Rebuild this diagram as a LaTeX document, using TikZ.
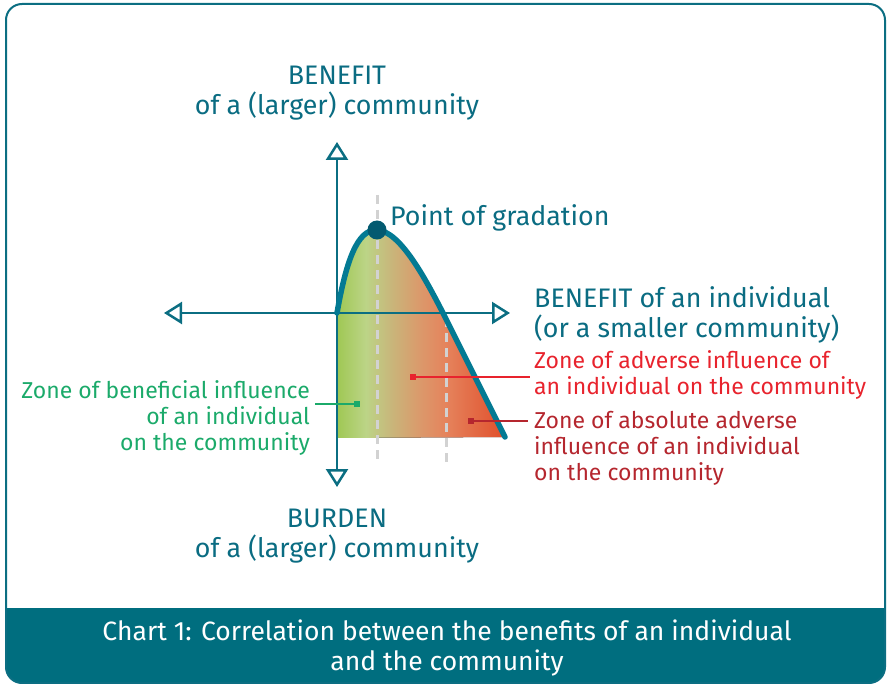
\documentclass[tikz,border=0pt]{standalone}
\usepackage{fontspec}
\setmainfont{Fira Sans}
\usetikzlibrary{arrows.meta,calc,positioning}

\definecolor{axisteal}{HTML}{0B6E82}
\definecolor{curveteal}{HTML}{037A93}
\definecolor{dotteal}{HTML}{035A70}
\definecolor{bandteal}{HTML}{006E7F}
\definecolor{textteal}{HTML}{0A6C82}
\definecolor{guidegray}{HTML}{D2D2D2}
\definecolor{zonegreen}{HTML}{1BAA6A}
\definecolor{zonered}{HTML}{E8232D}
\definecolor{zonedark}{HTML}{B5262E}
\definecolor{zg1}{HTML}{9DC750}
\definecolor{zg2}{HTML}{BCD487}
\definecolor{zg3}{HTML}{C9B57A}
\definecolor{zg4}{HTML}{DC976A}
\definecolor{zg5}{HTML}{E5835C}
\definecolor{zg6}{HTML}{E04D2A}

\begin{document}
\begin{tikzpicture}[x=1pt,y=-1pt,
    axis/.style={draw=axisteal, line width=2.5pt, {Triangle[open,length=18pt,width=22pt]}-{Triangle[open,length=18pt,width=22pt]}},
    guide/.style={draw=guidegray, line width=3pt, dash pattern=on 9pt off 6pt},
    marker/.style={rectangle, inner sep=0pt, minimum size=6pt},
    mainlabel/.style={text=textteal, font=\fontsize{26.8}{30}\selectfont, inner sep=0pt, align=center},
    zonelabel/.style={font=\fontsize{23}{26}\selectfont, inner sep=0pt}]
    \useasboundingbox (0,0) rectangle (888,684);

    %coordinates
    \coordinate (orig)   at (337,313);
    \coordinate (ytop)   at (337,142);
    \coordinate (ybot)   at (337,487);
    \coordinate (xleft)  at (164,313);
    \coordinate (xright) at (510,313);

    \coordinate (peak)  at (377,230);
    \coordinate (cross) at (443,313);
    \coordinate (endc)  at (505,437);
    \coordinate (base)  at (336,438);

    \coordinate (g0) at ($(peak) + (0,-35)$);
    \coordinate (g1) at ($(peak) + (0,232)$);
    \coordinate (h0) at (446,318);
    \coordinate (h1) at (446,462);

    %frame
    \begin{scope}
      \clip[rounded corners=16pt] (6,4) rectangle (885,683);
      \fill[bandteal] (6,608) rectangle (885,684);
    \end{scope}
    \draw[axisteal, line width=2pt, rounded corners=16pt] (6,4) rectangle (885,683);

    %zones
    \begin{scope}
      \clip (orig) .. controls (346,262) and (357,229) .. (peak)
        .. controls (400,231) and (425,278) .. (cross) -- (endc) -- (base) -- cycle;
      \fill[left color=zg1, right color=zg2] (335,220) rectangle (366,440);
      \fill[left color=zg2, right color=zg3] (366,220) rectangle (392,440);
      \fill[left color=zg3, right color=zg4] (392,220) rectangle (422,440);
      \fill[left color=zg4, right color=zg5] (422,220) rectangle (446,440);
      \fill[left color=zg5, right color=zg6] (446,220) rectangle (507,440);
    \end{scope}

    %guides
    \draw[guide] (g0) -- (g1);
    \draw[guide] (h0) -- (h1);

    %axes
    \draw[axis] (xleft) -- (xright);
    \draw[axis] (ybot) -- (ytop);

    %curve
    \draw[curveteal, line width=5.5pt, line cap=round]
      (orig) .. controls (346,262) and (357,229) .. (peak)
      .. controls (400,231) and (425,278) .. (cross) -- (endc);

    %nodes
    \node[circle, fill=dotteal, minimum size=19pt, inner sep=0pt] (peakdot) at (peak) {};
    \node[mainlabel, anchor=west] (grad) at (390,218) {Point of gradation};
    \node[mainlabel] (bencom) at (337,93) {BENEFIT\\of a (larger) community};
    \node[mainlabel] (burcom) at (337,536) {BURDEN\\of a (larger) community};
    \node[mainlabel, anchor=west, align=left] (benind) at (534,315) {BENEFIT of an individual\\(or a smaller community)};

    \node[zonelabel, text=zonegreen, align=right, anchor=east] (zben) at (310,418) {Zone of beneficial influence\\of an individual\\on the community};
    \node[zonelabel, text=zonered, align=left, anchor=west] (zadv) at (534,375) {Zone of adverse influence of\\an individual on the community};
    \node[zonelabel, text=zonedark, align=left, anchor=west] (zabs) at (534,448) {Zone of absolute adverse\\influence of an individual\\on the community};

    \node[marker, fill=zonegreen] (mben) at (357,404) {};
    \node[marker, fill=zonered] (madv) at (413,377) {};
    \node[marker, fill=zonedark] (mabs) at (471,421) {};

    \node[text=white, font=\fontsize{26.5}{30}\selectfont, align=center, inner sep=0pt] (caption) at (447,648)
      {Chart 1: Correlation between the benefits of an individual\\and the community};

    %leaders
    \draw[zonegreen, line width=1.5pt] (mben) -- ($(mben -| zben.east) + (5,0)$);
    \draw[zonered, line width=1.5pt] (madv) -- ($(madv -| zadv.west) + (-4,0)$);
    \draw[zonedark, line width=1.5pt] (mabs) -- ($(mabs -| zabs.west) + (-6,0)$);
\end{tikzpicture}
\end{document}
